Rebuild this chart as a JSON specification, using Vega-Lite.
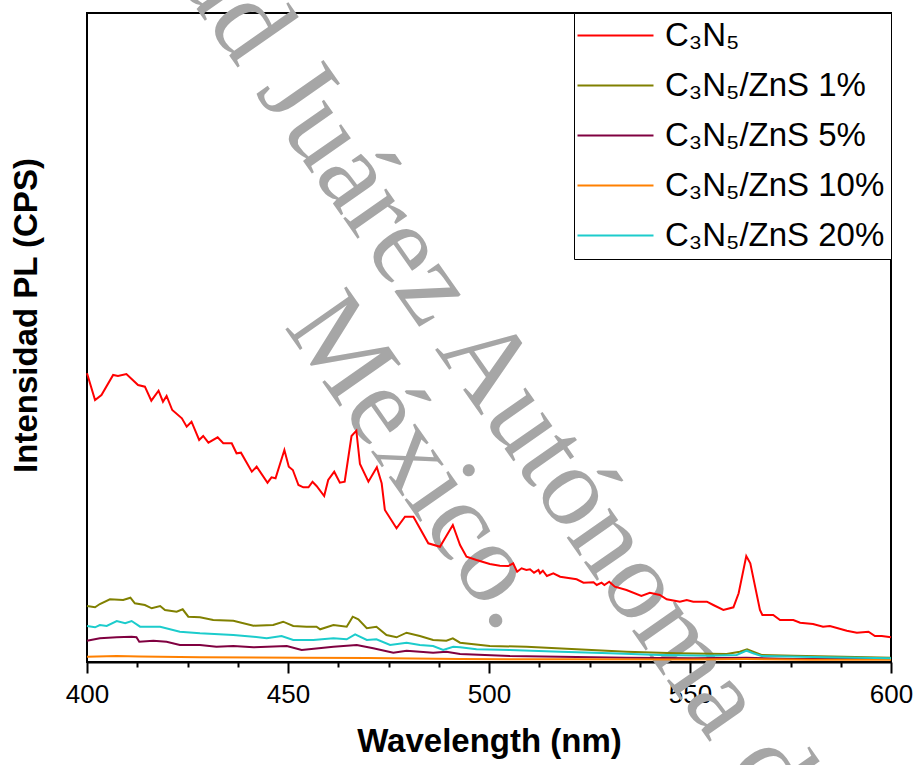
{
  "$schema": "https://vega.github.io/schema/vega-lite/v6.json",
  "autosize": "none",
  "width": 804,
  "height": 649,
  "padding": {"left": 87, "top": 13, "right": 26, "bottom": 103},
  "background": "white",
  "config": {
    "view": {"stroke": "black", "strokeWidth": 2},
    "font": "Liberation Sans"
  },
  "datasets": {
    "pl": [
      {"s":"C₃N₅","x":400,"y":2887},{"s":"C₃N₅","x":402,"y":2620},{"s":"C₃N₅","x":403.6,"y":2670},{"s":"C₃N₅","x":406.5,"y":2870},{"s":"C₃N₅","x":407.7,"y":2860},{"s":"C₃N₅","x":409.8,"y":2880},{"s":"C₃N₅","x":412.7,"y":2770},{"s":"C₃N₅","x":414.4,"y":2753},{"s":"C₃N₅","x":416,"y":2613},{"s":"C₃N₅","x":417.8,"y":2713},{"s":"C₃N₅","x":418.9,"y":2603},{"s":"C₃N₅","x":419.8,"y":2660},{"s":"C₃N₅","x":421.2,"y":2520},{"s":"C₃N₅","x":423.6,"y":2437},{"s":"C₃N₅","x":424.8,"y":2353},{"s":"C₃N₅","x":426,"y":2403},{"s":"C₃N₅","x":427.9,"y":2220},{"s":"C₃N₅","x":428.9,"y":2260},{"s":"C₃N₅","x":430.2,"y":2193},{"s":"C₃N₅","x":432.5,"y":2247},{"s":"C₃N₅","x":433.9,"y":2187},{"s":"C₃N₅","x":436,"y":2187},{"s":"C₃N₅","x":437.2,"y":2087},{"s":"C₃N₅","x":438.3,"y":2093},{"s":"C₃N₅","x":441,"y":1903},{"s":"C₃N₅","x":442.2,"y":1953},{"s":"C₃N₅","x":444.9,"y":1793},{"s":"C₃N₅","x":445.9,"y":1847},{"s":"C₃N₅","x":446.9,"y":1837},{"s":"C₃N₅","x":449.1,"y":2120},{"s":"C₃N₅","x":450.2,"y":1953},{"s":"C₃N₅","x":451.2,"y":1920},{"s":"C₃N₅","x":452.6,"y":1770},{"s":"C₃N₅","x":453.8,"y":1747},{"s":"C₃N₅","x":455.1,"y":1747},{"s":"C₃N₅","x":456.1,"y":1803},{"s":"C₃N₅","x":457.1,"y":1760},{"s":"C₃N₅","x":459,"y":1660},{"s":"C₃N₅","x":460,"y":1820},{"s":"C₃N₅","x":461.5,"y":1903},{"s":"C₃N₅","x":462.9,"y":1793},{"s":"C₃N₅","x":464.1,"y":1803},{"s":"C₃N₅","x":465.8,"y":2260},{"s":"C₃N₅","x":467,"y":2313},{"s":"C₃N₅","x":467.9,"y":1980},{"s":"C₃N₅","x":470,"y":1803},{"s":"C₃N₅","x":472.1,"y":1947},{"s":"C₃N₅","x":473.3,"y":1787},{"s":"C₃N₅","x":474.1,"y":1520},{"s":"C₃N₅","x":477,"y":1337},{"s":"C₃N₅","x":479.1,"y":1453},{"s":"C₃N₅","x":481.2,"y":1453},{"s":"C₃N₅","x":484.9,"y":1187},{"s":"C₃N₅","x":487.8,"y":1153},{"s":"C₃N₅","x":491,"y":1370},{"s":"C₃N₅","x":492.8,"y":1170},{"s":"C₃N₅","x":494.4,"y":1053},{"s":"C₃N₅","x":496.9,"y":1020},{"s":"C₃N₅","x":500.2,"y":980},{"s":"C₃N₅","x":502.7,"y":963},{"s":"C₃N₅","x":504.8,"y":960},{"s":"C₃N₅","x":506,"y":987},{"s":"C₃N₅","x":507,"y":903},{"s":"C₃N₅","x":508.1,"y":937},{"s":"C₃N₅","x":509.3,"y":920},{"s":"C₃N₅","x":510.2,"y":927},{"s":"C₃N₅","x":511.2,"y":893},{"s":"C₃N₅","x":512.3,"y":920},{"s":"C₃N₅","x":512.7,"y":887},{"s":"C₃N₅","x":513.4,"y":913},{"s":"C₃N₅","x":514.4,"y":860},{"s":"C₃N₅","x":516,"y":887},{"s":"C₃N₅","x":517.7,"y":853},{"s":"C₃N₅","x":521.8,"y":827},{"s":"C₃N₅","x":523.5,"y":793},{"s":"C₃N₅","x":526,"y":797},{"s":"C₃N₅","x":526.8,"y":770},{"s":"C₃N₅","x":528,"y":793},{"s":"C₃N₅","x":528.7,"y":770},{"s":"C₃N₅","x":529.9,"y":803},{"s":"C₃N₅","x":531.3,"y":753},{"s":"C₃N₅","x":534.2,"y":720},{"s":"C₃N₅","x":537.9,"y":660},{"s":"C₃N₅","x":540,"y":693},{"s":"C₃N₅","x":542.5,"y":670},{"s":"C₃N₅","x":544.2,"y":627},{"s":"C₃N₅","x":547.5,"y":603},{"s":"C₃N₅","x":549.2,"y":620},{"s":"C₃N₅","x":550.8,"y":603},{"s":"C₃N₅","x":554.2,"y":603},{"s":"C₃N₅","x":555.8,"y":570},{"s":"C₃N₅","x":558.3,"y":520},{"s":"C₃N₅","x":560.8,"y":547},{"s":"C₃N₅","x":562.1,"y":687},{"s":"C₃N₅","x":564,"y":1060},{"s":"C₃N₅","x":565,"y":987},{"s":"C₃N₅","x":567.4,"y":520},{"s":"C₃N₅","x":568,"y":470},{"s":"C₃N₅","x":570.7,"y":470},{"s":"C₃N₅","x":572.4,"y":420},{"s":"C₃N₅","x":575.7,"y":420},{"s":"C₃N₅","x":577.4,"y":393},{"s":"C₃N₅","x":580.6,"y":380},{"s":"C₃N₅","x":583.1,"y":353},{"s":"C₃N₅","x":584.8,"y":360},{"s":"C₃N₅","x":589,"y":313},{"s":"C₃N₅","x":591.5,"y":293},{"s":"C₃N₅","x":594.4,"y":303},{"s":"C₃N₅","x":596,"y":260},{"s":"C₃N₅","x":597.7,"y":260},{"s":"C₃N₅","x":600,"y":247},

      {"s":"C₃N₅/ZnS 1%","x":400,"y":560},{"s":"C₃N₅/ZnS 1%","x":402,"y":547},{"s":"C₃N₅/ZnS 1%","x":403.2,"y":580},{"s":"C₃N₅/ZnS 1%","x":405.7,"y":627},{"s":"C₃N₅/ZnS 1%","x":409,"y":620},{"s":"C₃N₅/ZnS 1%","x":410.8,"y":643},{"s":"C₃N₅/ZnS 1%","x":411.9,"y":587},{"s":"C₃N₅/ZnS 1%","x":414.4,"y":570},{"s":"C₃N₅/ZnS 1%","x":416.1,"y":537},{"s":"C₃N₅/ZnS 1%","x":418.2,"y":560},{"s":"C₃N₅/ZnS 1%","x":419.4,"y":520},{"s":"C₃N₅/ZnS 1%","x":422.3,"y":503},{"s":"C₃N₅/ZnS 1%","x":423.8,"y":527},{"s":"C₃N₅/ZnS 1%","x":425.2,"y":453},{"s":"C₃N₅/ZnS 1%","x":428.1,"y":447},{"s":"C₃N₅/ZnS 1%","x":431.4,"y":420},{"s":"C₃N₅/ZnS 1%","x":436.4,"y":413},{"s":"C₃N₅/ZnS 1%","x":441.4,"y":363},{"s":"C₃N₅/ZnS 1%","x":446.3,"y":370},{"s":"C₃N₅/ZnS 1%","x":448.8,"y":403},{"s":"C₃N₅/ZnS 1%","x":451.3,"y":360},{"s":"C₃N₅/ZnS 1%","x":454.6,"y":353},{"s":"C₃N₅/ZnS 1%","x":457.1,"y":353},{"s":"C₃N₅/ZnS 1%","x":458,"y":327},{"s":"C₃N₅/ZnS 1%","x":461.3,"y":370},{"s":"C₃N₅/ZnS 1%","x":464.6,"y":353},{"s":"C₃N₅/ZnS 1%","x":466.1,"y":453},{"s":"C₃N₅/ZnS 1%","x":467.5,"y":427},{"s":"C₃N₅/ZnS 1%","x":469.6,"y":337},{"s":"C₃N₅/ZnS 1%","x":472,"y":353},{"s":"C₃N₅/ZnS 1%","x":474.5,"y":270},{"s":"C₃N₅/ZnS 1%","x":477,"y":247},{"s":"C₃N₅/ZnS 1%","x":479.5,"y":293},{"s":"C₃N₅/ZnS 1%","x":482.8,"y":260},{"s":"C₃N₅/ZnS 1%","x":486.1,"y":220},{"s":"C₃N₅/ZnS 1%","x":489.4,"y":213},{"s":"C₃N₅/ZnS 1%","x":491,"y":237},{"s":"C₃N₅/ZnS 1%","x":492.8,"y":193},{"s":"C₃N₅/ZnS 1%","x":500.2,"y":160},{"s":"C₃N₅/ZnS 1%","x":509.3,"y":153},{"s":"C₃N₅/ZnS 1%","x":521.8,"y":127},{"s":"C₃N₅/ZnS 1%","x":534.2,"y":103},{"s":"C₃N₅/ZnS 1%","x":546.7,"y":87},{"s":"C₃N₅/ZnS 1%","x":559.1,"y":80},{"s":"C₃N₅/ZnS 1%","x":562.4,"y":103},{"s":"C₃N₅/ZnS 1%","x":564.2,"y":127},{"s":"C₃N₅/ZnS 1%","x":565.7,"y":103},{"s":"C₃N₅/ZnS 1%","x":567.8,"y":70},{"s":"C₃N₅/ZnS 1%","x":575.7,"y":63},{"s":"C₃N₅/ZnS 1%","x":588.2,"y":53},{"s":"C₃N₅/ZnS 1%","x":600,"y":43},

      {"s":"C₃N₅/ZnS 5%","x":400,"y":213},{"s":"C₃N₅/ZnS 5%","x":403.2,"y":237},{"s":"C₃N₅/ZnS 5%","x":407.4,"y":247},{"s":"C₃N₅/ZnS 5%","x":411.1,"y":253},{"s":"C₃N₅/ZnS 5%","x":412.3,"y":247},{"s":"C₃N₅/ZnS 5%","x":413,"y":203},{"s":"C₃N₅/ZnS 5%","x":416.5,"y":213},{"s":"C₃N₅/ZnS 5%","x":419.8,"y":203},{"s":"C₃N₅/ZnS 5%","x":423.1,"y":170},{"s":"C₃N₅/ZnS 5%","x":428.1,"y":170},{"s":"C₃N₅/ZnS 5%","x":432.2,"y":153},{"s":"C₃N₅/ZnS 5%","x":436.4,"y":160},{"s":"C₃N₅/ZnS 5%","x":441.4,"y":147},{"s":"C₃N₅/ZnS 5%","x":449.7,"y":160},{"s":"C₃N₅/ZnS 5%","x":453.4,"y":120},{"s":"C₃N₅/ZnS 5%","x":461.3,"y":153},{"s":"C₃N₅/ZnS 5%","x":467.1,"y":170},{"s":"C₃N₅/ZnS 5%","x":471.2,"y":137},{"s":"C₃N₅/ZnS 5%","x":476.2,"y":93},{"s":"C₃N₅/ZnS 5%","x":479.5,"y":113},{"s":"C₃N₅/ZnS 5%","x":486.1,"y":93},{"s":"C₃N₅/ZnS 5%","x":489.4,"y":103},{"s":"C₃N₅/ZnS 5%","x":492.8,"y":80},{"s":"C₃N₅/ZnS 5%","x":505.2,"y":60},{"s":"C₃N₅/ZnS 5%","x":517.7,"y":53},{"s":"C₃N₅/ZnS 5%","x":534.2,"y":43},{"s":"C₃N₅/ZnS 5%","x":550.8,"y":37},{"s":"C₃N₅/ZnS 5%","x":564.1,"y":43},{"s":"C₃N₅/ZnS 5%","x":575.7,"y":30},{"s":"C₃N₅/ZnS 5%","x":600,"y":30},

      {"s":"C₃N₅/ZnS 10%","x":400,"y":53},{"s":"C₃N₅/ZnS 10%","x":407.4,"y":60},{"s":"C₃N₅/ZnS 10%","x":413,"y":55},{"s":"C₃N₅/ZnS 10%","x":428.1,"y":47},{"s":"C₃N₅/ZnS 10%","x":453,"y":43},{"s":"C₃N₅/ZnS 10%","x":470,"y":40},{"s":"C₃N₅/ZnS 10%","x":492.8,"y":30},{"s":"C₃N₅/ZnS 10%","x":520,"y":27},{"s":"C₃N₅/ZnS 10%","x":550,"y":25},{"s":"C₃N₅/ZnS 10%","x":564,"y":30},{"s":"C₃N₅/ZnS 10%","x":580,"y":23},{"s":"C₃N₅/ZnS 10%","x":600,"y":23},

      {"s":"C₃N₅/ZnS 20%","x":400,"y":360},{"s":"C₃N₅/ZnS 20%","x":402,"y":347},{"s":"C₃N₅/ZnS 20%","x":403.2,"y":370},{"s":"C₃N₅/ZnS 20%","x":404.9,"y":360},{"s":"C₃N₅/ZnS 20%","x":407.4,"y":410},{"s":"C₃N₅/ZnS 20%","x":409.5,"y":387},{"s":"C₃N₅/ZnS 20%","x":411.1,"y":410},{"s":"C₃N₅/ZnS 20%","x":413.2,"y":353},{"s":"C₃N₅/ZnS 20%","x":418.2,"y":353},{"s":"C₃N₅/ZnS 20%","x":423.1,"y":303},{"s":"C₃N₅/ZnS 20%","x":428.1,"y":287},{"s":"C₃N₅/ZnS 20%","x":436.4,"y":270},{"s":"C₃N₅/ZnS 20%","x":441.4,"y":253},{"s":"C₃N₅/ZnS 20%","x":444.7,"y":237},{"s":"C₃N₅/ZnS 20%","x":448.4,"y":260},{"s":"C₃N₅/ZnS 20%","x":451.3,"y":220},{"s":"C₃N₅/ZnS 20%","x":456.3,"y":220},{"s":"C₃N₅/ZnS 20%","x":461.3,"y":237},{"s":"C₃N₅/ZnS 20%","x":464.6,"y":227},{"s":"C₃N₅/ZnS 20%","x":466.7,"y":277},{"s":"C₃N₅/ZnS 20%","x":469.6,"y":220},{"s":"C₃N₅/ZnS 20%","x":472,"y":227},{"s":"C₃N₅/ZnS 20%","x":475.4,"y":170},{"s":"C₃N₅/ZnS 20%","x":479.5,"y":193},{"s":"C₃N₅/ZnS 20%","x":482.8,"y":170},{"s":"C₃N₅/ZnS 20%","x":486.1,"y":160},{"s":"C₃N₅/ZnS 20%","x":488.6,"y":120},{"s":"C₃N₅/ZnS 20%","x":491.1,"y":153},{"s":"C₃N₅/ZnS 20%","x":492.8,"y":147},{"s":"C₃N₅/ZnS 20%","x":496.9,"y":127},{"s":"C₃N₅/ZnS 20%","x":505.2,"y":120},{"s":"C₃N₅/ZnS 20%","x":517.7,"y":103},{"s":"C₃N₅/ZnS 20%","x":530.1,"y":87},{"s":"C₃N₅/ZnS 20%","x":542.5,"y":70},{"s":"C₃N₅/ZnS 20%","x":555,"y":63},{"s":"C₃N₅/ZnS 20%","x":561.6,"y":70},{"s":"C₃N₅/ZnS 20%","x":564.1,"y":113},{"s":"C₃N₅/ZnS 20%","x":565.7,"y":87},{"s":"C₃N₅/ZnS 20%","x":567.8,"y":60},{"s":"C₃N₅/ZnS 20%","x":584,"y":47},{"s":"C₃N₅/ZnS 20%","x":600,"y":37}
    ]
  },
  "layer": [
    {
      "data": {"values": [{}]},
      "mark": {"type": "text", "text": "Universidad Juárez Autónoma de Tabasco.", "font": "Liberation Serif", "fontSize": 114, "angle": 55, "align": "left", "baseline": "alphabetic", "color": "#a6a6a6"},
      "encoding": {
        "x": {"datum": 358.16, "type": "quantitative", "scale": {"domain": [400, 600], "nice": false, "zero": false},
              "axis": {"orient": "bottom", "values": [412.5, 425, 437.5, 462.5, 475, 487.5, 512.5, 525, 537.5, 562.5, 575, 587.5], "tickSize": 5, "tickWidth": 2, "tickColor": "black", "labels": false, "domain": false, "grid": false, "title": null}},
        "y": {"datum": 10497, "type": "quantitative", "scale": {"domain": [0, 6490], "nice": false, "zero": true}, "axis": null}
      }
    },
    {
      "data": {"values": [{}]},
      "mark": {"type": "text", "text": "México.", "font": "Liberation Serif", "fontSize": 114, "angle": 55, "align": "left", "baseline": "alphabetic", "color": "#a6a6a6"},
      "encoding": {
        "x": {"datum": 448.86, "type": "quantitative", "axis": null},
        "y": {"datum": 3355, "type": "quantitative", "axis": null}
      }
    },
    {
      "data": {"values": [{}]},
      "mark": {"type": "text", "text": "Intensidad PL (CPS)", "font": "Liberation Sans", "fontSize": 33, "fontWeight": "bold", "angle": 270, "align": "center", "baseline": "middle", "color": "black"},
      "encoding": {
        "x": {"datum": 385.07, "type": "quantitative", "axis": null},
        "y": {"datum": 3465, "type": "quantitative", "axis": null}
      }
    },
    {
      "data": {"name": "pl"},
      "mark": {"type": "line", "strokeWidth": 2, "interpolate": "linear"},
      "encoding": {
        "x": {"field": "x", "type": "quantitative",
              "axis": {"orient": "bottom", "title": "Wavelength (nm)", "values": [400, 450, 500, 550, 600], "tickSize": 11, "tickWidth": 2, "tickColor": "black", "domainColor": "black", "domainWidth": 2, "grid": false,
                       "labelFont": "Liberation Sans", "labelFontSize": 26, "labelColor": "black", "labelPadding": 8, "labelFlush": false, "labelOverlap": false,
                       "titleFont": "Liberation Sans", "titleFontSize": 33, "titleFontWeight": "bold", "titleColor": "black", "titlePadding": 18}},
        "y": {"field": "y", "type": "quantitative", "title": "Intensidad PL (CPS)", "axis": null},
        "color": {"field": "s", "type": "nominal",
                  "scale": {"domain": ["C₃N₅", "C₃N₅/ZnS 1%", "C₃N₅/ZnS 5%", "C₃N₅/ZnS 10%", "C₃N₅/ZnS 20%"],
                            "range": ["#ff0000", "#808000", "#800040", "#ff8000", "#1ccccc"]},
                  "legend": {"orient": "top-right", "offset": 0, "title": null, "symbolType": "M -2 0 L 6 0", "symbolSize": 361, "symbolStrokeWidth": 2,
                             "labelFont": "Liberation Sans", "labelFontSize": 33, "labelColor": "black", "labelLimit": 500, "labelOffset": 52,
                             "strokeColor": "black", "fillColor": "white", "padding": 6, "rowPadding": 16}}
      }
    }
  ],
  "resolve": {"axis": {"x": "independent"}}
}
